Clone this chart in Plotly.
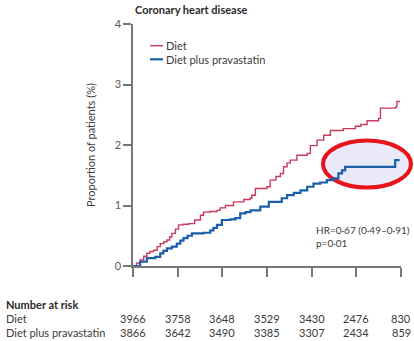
import plotly.graph_objects as go

# Kaplan-Meier cumulative incidence, coronary heart disease (years, %)
diet_t = [0, 0.08, 0.16, 0.24, 0.31, 0.38, 0.46, 0.54, 0.61, 0.69, 0.76, 0.82, 0.87, 0.95,
          1.02, 1.12, 1.25, 1.38, 1.51, 1.58, 1.72, 1.88, 1.95, 2.07, 2.25, 2.48, 2.62, 2.66,
          2.74, 3.00, 3.07, 3.20, 3.30, 3.37, 3.45, 3.52, 3.67, 3.90, 3.97, 4.12, 4.27, 4.42,
          4.71, 4.98, 5.10, 5.24, 5.50, 5.54, 5.88, 5.91, 5.98]
diet_p = [0, 0.05, 0.10, 0.16, 0.21, 0.24, 0.26, 0.32, 0.37, 0.40, 0.43, 0.48, 0.54, 0.61,
          0.68, 0.69, 0.70, 0.76, 0.84, 0.89, 0.90, 0.92, 0.96, 1.00, 1.06, 1.10, 1.12, 1.17,
          1.28, 1.31, 1.42, 1.48, 1.53, 1.64, 1.70, 1.75, 1.83, 1.86, 1.99, 2.08, 2.16, 2.24,
          2.27, 2.31, 2.34, 2.40, 2.44, 2.61, 2.63, 2.72, 2.72]

prav_t = [0, 0.16, 0.31, 0.50, 0.61, 0.68, 0.76, 0.87, 0.98, 1.06, 1.13, 1.22, 1.32, 1.58,
          1.73, 1.80, 1.88, 1.99, 2.18, 2.29, 2.40, 2.52, 2.63, 2.85, 3.04, 3.33, 3.45, 3.60,
          3.75, 3.90, 4.04, 4.19, 4.34, 4.49, 4.60, 4.68, 4.75, 5.87, 5.97]
prav_p = [0, 0.07, 0.13, 0.15, 0.21, 0.25, 0.29, 0.32, 0.37, 0.42, 0.46, 0.50, 0.54, 0.55,
          0.59, 0.63, 0.68, 0.76, 0.77, 0.79, 0.87, 0.89, 0.92, 0.98, 1.06, 1.12, 1.17, 1.21,
          1.25, 1.31, 1.36, 1.38, 1.42, 1.45, 1.53, 1.58, 1.64, 1.75, 1.75]

risk_years = [0, 1, 2, 3, 4, 5, 6]
risk_diet = [3966, 3758, 3648, 3529, 3430, 2476, 830]
risk_prav = [3866, 3642, 3490, 3385, 3307, 2434, 859]

series_names = ["Diet", "Diet plus pravastatin"]
y_ticks = [0, 1, 2, 3, 4]

RED = "#c93a5c"
BLUE = "#1b5fa9"
AXIS = "#777777"
TEXT = "#3a3a3a"
FONT = "Lato"

W, H = 414, 341
ML, MR, MT, MB = 133, 13, 24, 75
PW, PH = W - ML - MR, H - MT - MB


def px_x(p):
    return (p - ML) / PW


def px_y(p):
    return (H - MB - p) / PH


fig = go.Figure()
fig.add_trace(go.Scatter(x=diet_t, y=diet_p, mode="lines", line_shape="hv",
                         line=dict(color=RED, width=1.4), name=series_names[0],
                         showlegend=False))
fig.add_trace(go.Scatter(x=prav_t, y=prav_p, mode="lines", line_shape="hv",
                         line=dict(color=BLUE, width=2.2), name=series_names[1],
                         showlegend=False))

shapes = []
# highlight ellipse around the late plateau of the pravastatin curve
shapes.append(dict(type="circle", xref="paper", yref="paper",
                   x0=px_x(323), x1=px_x(411), y0=px_y(187.5), y1=px_y(140.5),
                   line=dict(color="#e8141b", width=4), fillcolor="rgba(226,226,248,0.75)",
                   layer="below"))

# legend keys
for i, (name, col, w) in enumerate([(series_names[0], RED, 1.4), (series_names[1], BLUE, 2.2)]):
    yy = 45.7 + i * 13.6
    shapes.append(dict(type="line", xref="paper", yref="paper",
                       x0=px_x(150), x1=px_x(163), y0=px_y(yy), y1=px_y(yy),
                       line=dict(color=col, width=w)))

annotations = []
annotations.append(dict(text="<b>Coronary heart disease</b>", xref="paper", yref="paper",
                        x=px_x(133), y=px_y(10), xanchor="left", yanchor="middle",
                        showarrow=False, font=dict(size=11, color="#2a2a2a", family=FONT)))
for i, name in enumerate(series_names):
    annotations.append(dict(text=name, xref="paper", yref="paper",
                            x=px_x(164), y=px_y(45.7 + i * 13.6), xanchor="left",
                            yanchor="middle", showarrow=False,
                            font=dict(size=11, color=TEXT, family=FONT)))

annotations.append(dict(text="Proportion of patients (%)", xref="paper", yref="paper",
                        x=px_x(90), y=px_y(145), textangle=-90, xanchor="center",
                        yanchor="middle", showarrow=False,
                        font=dict(size=11, color=TEXT, family=FONT)))

annotations.append(dict(text="HR=0·67 (0·49–0·91)<br>p=0·01", xref="paper", yref="paper",
                        x=px_x(314), y=px_y(236), xanchor="left", yanchor="middle",
                        align="left", showarrow=False,
                        font=dict(size=10, color=TEXT, family=FONT)))

# number-at-risk table
annotations.append(dict(text="<b>Number at risk</b>", xref="paper", yref="paper",
                        x=px_x(4), y=px_y(304), xanchor="left", yanchor="middle",
                        showarrow=False, font=dict(size=11, color="#2a2a2a", family=FONT)))
for label, counts, yy in [(series_names[0], risk_diet, 318), (series_names[1], risk_prav, 332)]:
    annotations.append(dict(text=label, xref="paper", yref="paper",
                            x=px_x(4), y=px_y(yy), xanchor="left", yanchor="middle",
                            showarrow=False, font=dict(size=11, color=TEXT, family=FONT)))
    for t, n in zip(risk_years, counts):
        annotations.append(dict(text=str(n), xref="x", yref="paper", x=t, y=px_y(yy),
                                xanchor="center", yanchor="middle", showarrow=False,
                                font=dict(size=11, color=TEXT, family=FONT)))

fig.update_layout(
    width=W, height=H, margin=dict(l=ML, r=MR, t=MT, b=MB, pad=0),
    paper_bgcolor="white", plot_bgcolor="white",
    font=dict(family=FONT, size=11, color=TEXT),
    xaxis=dict(range=[0, 6], showgrid=False, zeroline=False, showline=True,
               linecolor=AXIS, linewidth=1.5, ticks="outside", ticklen=9,
               tickcolor=AXIS, tickwidth=1.5, tickvals=risk_years, showticklabels=False),
    yaxis=dict(range=[0, 4], showgrid=False, zeroline=False, showline=True,
               linecolor=AXIS, linewidth=1.5, ticks="outside", ticklen=8,
               tickcolor=AXIS, tickwidth=1.5, tickvals=y_ticks,
               tickfont=dict(size=11, color="#555555", family=FONT)),
    shapes=shapes, annotations=annotations, showlegend=False,
)

fig.write_html("out.html")
